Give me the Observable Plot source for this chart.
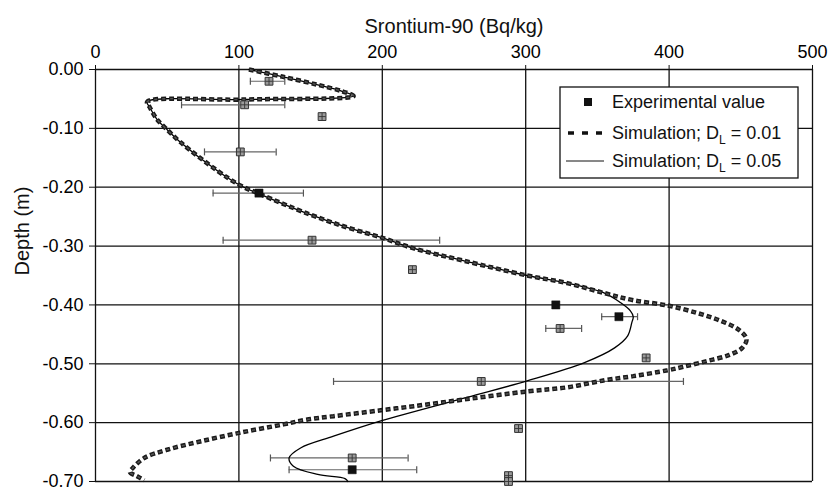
<!DOCTYPE html>
<html>
<head>
<meta charset="utf-8">
<script src="https://cdn.jsdelivr.net/npm/d3@7"></script>
<script src="https://cdn.jsdelivr.net/npm/@observablehq/plot@0.6"></script>
<style>
  html, body { margin: 0; padding: 0; background: #fff; }
  #chart { width: 829px; height: 491px; position: relative; }
  svg { font-family: "Liberation Sans", Arial, sans-serif; }
</style>
</head>
<body>
<div id="chart"></div>
<script>
// ---- Data ----
const xTicks = [0, 100, 200, 300, 400, 500];
const yTicks = [0, -0.1, -0.2, -0.3, -0.4, -0.5, -0.6, -0.7];
const xTitle = "Srontium-90 (Bq/kg)";
const yTitle = "Depth (m)";

// Experimental values
const expDepth = [-0.02, -0.06, -0.08, -0.14, -0.21, -0.29, -0.34, -0.40, -0.42, -0.44, -0.49, -0.53, -0.61, -0.66, -0.68, -0.69, -0.70];
const expValue = [121, 104, 158, 101, 114, 151, 221, 321, 365, 324, 384, 269, 295, 179, 179, 288, 288];
const expLow   = [108, 60, null, 76, 82, 89, null, null, 353, 314, null, 166, null, 122, 135, null, null];
const expHigh  = [132, 132, null, 126, 145, 240, null, null, 378, 339, null, 410, null, 218, 224, null, null];
const expSolid = [false, false, false, false, true, false, false, true, true, false, false, false, false, false, true, false, false];

// Simulation D_L = 0.01 (dashed)
const sim01Value = [107, 130, 155, 172, 180, 104, 36, 38, 43, 49, 59, 85, 101, 115, 148, 175, 200, 222, 257, 301, 329, 355, 375, 399, 420, 436, 449, 454, 451, 442, 427, 410, 399, 375, 355, 329, 301, 259, 222, 199, 166, 147, 131, 101, 73, 50, 34, 26, 24, 29, 34];
const sim01Depth = [0.000, -0.012, -0.026, -0.037, -0.045, -0.051, -0.055, -0.065, -0.085, -0.100, -0.123, -0.172, -0.197, -0.212, -0.245, -0.268, -0.286, -0.304, -0.325, -0.350, -0.363, -0.380, -0.392, -0.401, -0.414, -0.427, -0.443, -0.458, -0.473, -0.485, -0.495, -0.505, -0.511, -0.521, -0.528, -0.540, -0.547, -0.560, -0.572, -0.579, -0.589, -0.595, -0.603, -0.617, -0.632, -0.646, -0.660, -0.677, -0.684, -0.691, -0.698];

// Simulation D_L = 0.05 (solid)
const sim05Value = [107, 130, 155, 172, 180, 104, 36, 38, 43, 49, 59, 85, 101, 115, 148, 175, 200, 222, 257, 301, 329, 355, 366, 373, 375, 374, 371, 362, 341, 301, 259, 199, 166, 143, 135, 138, 155, 174, 176];
const sim05Depth = [0.000, -0.012, -0.026, -0.037, -0.045, -0.051, -0.055, -0.065, -0.085, -0.100, -0.123, -0.172, -0.197, -0.212, -0.245, -0.268, -0.286, -0.304, -0.325, -0.350, -0.363, -0.380, -0.396, -0.410, -0.420, -0.430, -0.453, -0.473, -0.498, -0.529, -0.557, -0.597, -0.623, -0.643, -0.660, -0.674, -0.688, -0.695, -0.700];

// ---- Tables built from arrays ----
const exp = expDepth.map((d, i) => ({depth: d, value: expValue[i], lo: expLow[i], hi: expHigh[i], solid: expSolid[i]}));
const errs = exp.filter(d => d.lo != null);
const caps = errs.flatMap(d => [{x: d.lo, y: d.depth}, {x: d.hi, y: d.depth}]);
const sim01 = sim01Value.map((v, i) => ({x: v, y: sim01Depth[i]}));
const sim05 = sim05Value.map((v, i) => ({x: v, y: sim05Depth[i]}));

const vbar = {draw(ctx, size) { const r = Math.sqrt(size / Math.PI); ctx.moveTo(0, -r); ctx.lineTo(0, r); }};
const cross = {draw(ctx, size) { const r = Math.sqrt(size / Math.PI); ctx.moveTo(0, -r); ctx.lineTo(0, r); ctx.moveTo(-r, 0); ctx.lineTo(r, 0); }};

const W = 829, H = 491;
const plot = Plot.plot({
  width: W,
  height: H,
  marginLeft: 95,
  marginRight: 17,
  marginTop: 69,
  marginBottom: 10,
  style: {fontFamily: "'Liberation Sans', Arial, sans-serif", background: "#fff"},
  x: {domain: [0, 500]},
  y: {domain: [-0.7, 0]},
  marks: [
    Plot.gridY(yTicks, {stroke: "#111", strokeOpacity: 1, strokeWidth: 1.3}),
    Plot.gridX(xTicks, {stroke: "#111", strokeOpacity: 1, strokeWidth: 1.3}),
    Plot.axisX(xTicks, {anchor: "top", tickSize: 5, tickPadding: 7, fontSize: 18, label: null, tickFormat: d => String(d), stroke: "#111"}),
    Plot.axisY(yTicks, {anchor: "left", tickSize: 6, tickPadding: 6, fontSize: 18, label: null, tickFormat: d => d.toFixed(2), stroke: "#111"}),
    Plot.text([xTitle], {frameAnchor: "top", dy: -51, fontSize: 20, fill: "#111"}),
    Plot.text([yTitle], {frameAnchor: "left", dx: -73, rotate: -90, fontSize: 20, fill: "#111"}),
    // error bars
    Plot.ruleY(errs, {y: "depth", x1: "lo", x2: "hi", stroke: "#666", strokeWidth: 1.2}),
    Plot.dot(caps, {x: "x", y: "y", symbol: vbar, r: 3.5, stroke: "#555", strokeWidth: 1.2}),
    // simulations
    Plot.line(sim05, {x: "x", y: "y", stroke: "#000", strokeWidth: 1.3, curve: "catmull-rom"}),
    Plot.line(sim01, {x: "x", y: "y", stroke: "#1a1a1a", strokeWidth: 4.5, strokeDasharray: "5,3", strokeLinecap: "butt", strokeLinejoin: "miter", curve: "catmull-rom"}),
    Plot.line(sim01, {x: "x", y: "y", stroke: "#555", strokeWidth: 1.4, strokeDasharray: "3,5", strokeDashoffset: -1, strokeLinecap: "butt", curve: "catmull-rom"}),
    // experimental points
    Plot.dot(exp.filter(d => !d.solid), {x: "value", y: "depth", symbol: "square", r: 4.4, fill: "#9a9a9a", stroke: "#333", strokeWidth: 1}),
    Plot.dot(exp.filter(d => !d.solid), {x: "value", y: "depth", symbol: cross, r: 3.6, stroke: "#333", strokeWidth: 0.9}),
    Plot.dot(exp.filter(d => d.solid), {x: "value", y: "depth", symbol: "square", r: 4.6, fill: "#111", stroke: "#111", strokeWidth: 0.5})
  ]
});
document.getElementById("chart").appendChild(plot);

// ---- Legend ----
const svg = d3.select(plot);
const lg = svg.append("g").attr("font-family", "'Liberation Sans', Arial, sans-serif").attr("font-size", 18).attr("fill", "#111").attr("text-anchor", "start");
lg.append("rect").attr("x", 560).attr("y", 87).attr("width", 238).attr("height", 91).attr("fill", "#fff").attr("stroke", "#111").attr("stroke-width", 1.3);
lg.append("rect").attr("x", 584).attr("y", 98).attr("width", 8).attr("height", 8).attr("fill", "#111");
lg.append("text").attr("x", 612).attr("y", 102).attr("dy", "0.35em").text("Experimental value");
lg.append("line").attr("x1", 568).attr("x2", 604).attr("y1", 133).attr("y2", 133).attr("stroke", "#111").attr("stroke-width", 3.5).attr("stroke-dasharray", "6,8");
const t2 = lg.append("text").attr("x", 612).attr("y", 133).attr("dy", "0.35em");
t2.append("tspan").text("Simulation; D");
t2.append("tspan").attr("font-size", 12).attr("dy", 5).text("L");
t2.append("tspan").attr("dy", -5).text(" = 0.01");
lg.append("line").attr("x1", 566).attr("x2", 604).attr("y1", 161).attr("y2", 161).attr("stroke", "#111").attr("stroke-width", 1);
const t3 = lg.append("text").attr("x", 612).attr("y", 161).attr("dy", "0.35em");
t3.append("tspan").text("Simulation; D");
t3.append("tspan").attr("font-size", 12).attr("dy", 5).text("L");
t3.append("tspan").attr("dy", -5).text(" = 0.05");
</script>
</body>
</html>
